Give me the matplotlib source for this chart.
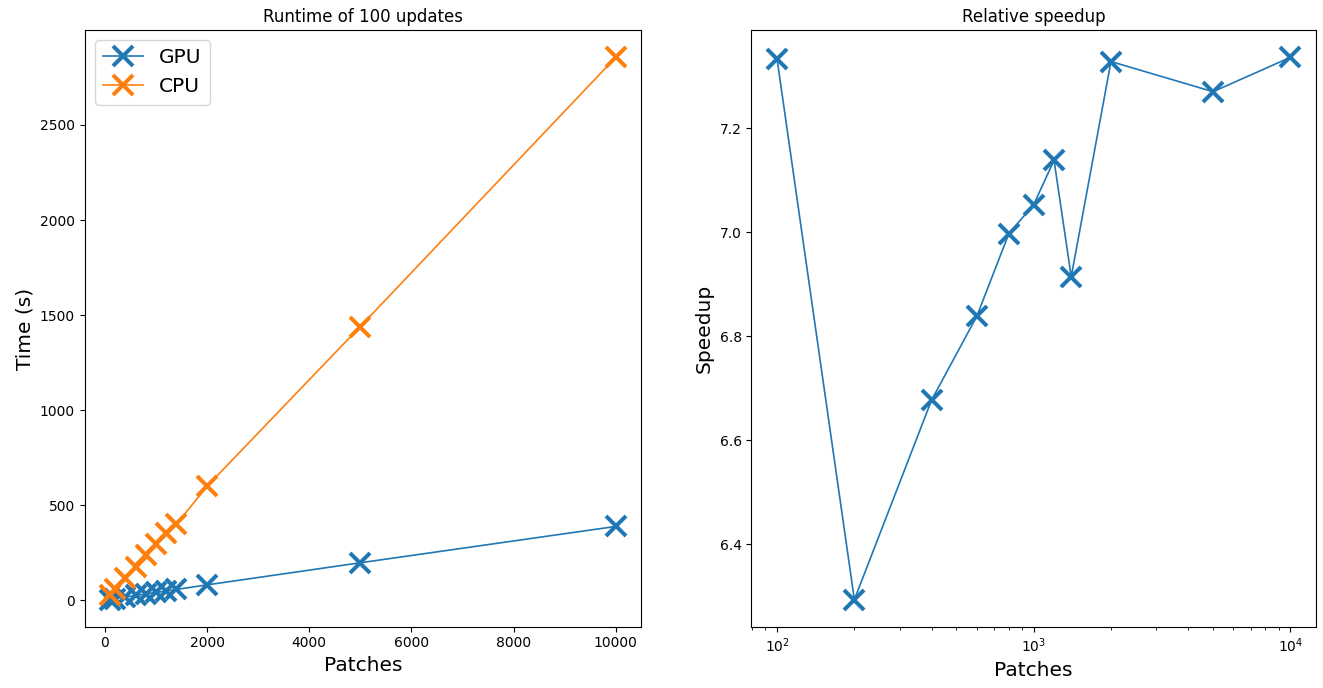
#!/usr/bin/env python3
"""Runtime of GPU vs CPU updates and the relative speedup."""

import matplotlib
matplotlib.use('Agg')
import matplotlib.pyplot as plt

patches = [100, 200, 400, 600, 800, 1000, 1200, 1400, 2000, 5000, 10000]
cpu_time = [30, 60, 120, 178, 240, 298, 352, 400, 600, 1440, 2855]
gpu_time = [4.1, 9.5, 18.0, 26.0, 34.3, 42.2, 49.3, 57.8, 81.8, 198, 389]
speedup = [7.332, 6.293, 6.677, 6.838, 6.997, 7.053, 7.138, 6.914, 7.328,
           7.270, 7.336]

fig = plt.figure(figsize=(13.23, 6.88), dpi=100)
ax1 = fig.add_axes([0.064, 0.089, 0.4205, 0.867])
ax2 = fig.add_axes([0.568, 0.089, 0.4267, 0.867])

mk = dict(marker='x', markersize=15, markeredgewidth=2.9, linewidth=1.2)

ax1.plot(patches, gpu_time, label='GPU', **mk)
ax1.plot(patches, cpu_time, label='CPU', **mk)
ax1.set_title('Runtime of 100 updates', fontsize=12)
ax1.set_xlabel('Patches', fontsize=14.5)
ax1.set_ylabel('Time (s)', fontsize=14.5)
ax1.tick_params(labelsize=10)
ax1.legend(loc='upper left', fontsize=14.5)

ax2.plot(patches, speedup, **mk)
ax2.set_xscale('log')
ax2.set_title('Relative speedup', fontsize=12)
ax2.set_xlabel('Patches', fontsize=14.5)
ax2.set_ylabel('Speedup', fontsize=14.5)
ax2.tick_params(labelsize=10)

fig.savefig('out.png', dpi=100)
